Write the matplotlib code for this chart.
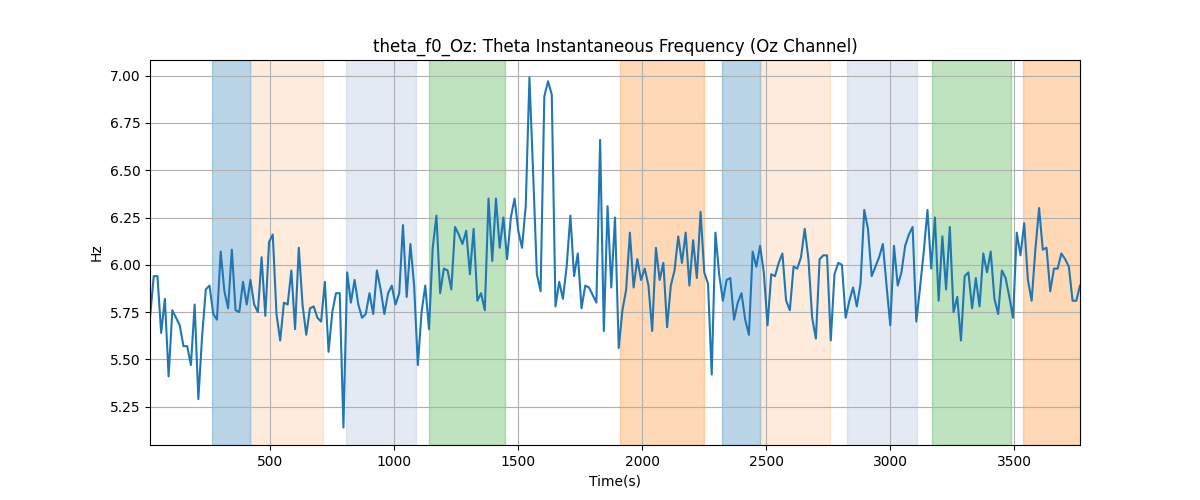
import numpy as np
import matplotlib
matplotlib.use("Agg")
import matplotlib.pyplot as plt

# sample times (15 s step)
times = np.arange(15, 3766, 15)

freq = [
    5.72, 5.94, 5.94, 5.64, 5.82, 5.41, 5.76, 5.72, 5.68, 5.57,
    5.57, 5.47, 5.79, 5.29, 5.62, 5.87, 5.89, 5.74, 5.71, 6.07,
    5.86, 5.77, 6.08, 5.76, 5.75, 5.91, 5.79, 5.92, 5.79, 5.75,
    6.04, 5.73, 6.12, 6.16, 5.74, 5.60, 5.80, 5.79, 5.97, 5.66,
    6.09, 5.79, 5.63, 5.77, 5.78, 5.72, 5.70, 5.91, 5.54, 5.75,
    5.85, 5.85, 5.14, 5.96, 5.80, 5.92, 5.79, 5.72, 5.74, 5.85,
    5.74, 5.97, 5.87, 5.74, 5.85, 5.89, 5.79, 5.85, 6.21, 5.83,
    6.11, 5.89, 5.47, 5.75, 5.89, 5.66, 6.09, 6.26, 5.85, 5.98,
    5.97, 5.87, 6.20, 6.16, 6.11, 6.18, 5.95, 6.19, 5.81, 5.85,
    5.76, 6.35, 6.02, 6.35, 6.09, 6.25, 6.03, 6.25, 6.35, 6.18,
    6.09, 6.31, 6.99, 6.48, 5.95, 5.86, 6.89, 6.97, 6.90, 5.78,
    5.91, 5.82, 5.99, 6.26, 5.94, 6.06, 5.77, 5.89, 5.88, 5.84,
    5.80, 6.66, 5.65, 6.31, 5.88, 6.25, 5.56, 5.76, 5.87, 6.17,
    5.88, 6.03, 5.92, 5.98, 5.89, 5.65, 6.09, 5.92, 6.01, 5.67,
    5.89, 5.97, 6.15, 6.01, 6.17, 5.89, 6.13, 5.93, 6.28, 5.96,
    5.90, 5.42, 6.17, 5.95, 5.81, 5.92, 5.93, 5.71, 5.80, 5.85,
    5.71, 5.63, 6.07, 5.99, 6.10, 5.96, 5.68, 5.95, 5.94, 6.01,
    6.06, 5.81, 5.76, 5.99, 5.98, 6.04, 6.19, 6.03, 5.72, 5.61,
    6.03, 6.05, 6.05, 5.60, 5.95, 6.01, 6.00, 5.72, 5.81, 5.88,
    5.78, 5.90, 6.29, 6.19, 5.94, 5.99, 6.04, 6.11, 5.89, 5.68,
    6.10, 5.89, 5.96, 6.10, 6.16, 6.20, 5.70, 5.88, 6.07, 6.29,
    5.98, 6.25, 5.81, 6.15, 5.87, 6.20, 5.75, 5.83, 5.60, 5.94,
    5.96, 5.77, 5.93, 5.78, 6.06, 5.96, 6.07, 5.82, 5.74, 5.97,
    5.93, 5.83, 5.72, 6.17, 6.05, 6.22, 5.92, 5.81, 6.08, 6.30,
    6.08, 6.09, 5.86, 5.98, 5.98, 6.06, 6.03, 5.99, 5.81, 5.81,
    5.89,
]

span_starts = [265, 422, 806, 1141, 1910, 2323, 2479, 2825, 3169, 3536]
span_ends = [419, 711, 1086, 1445, 2248, 2476, 2756, 3106, 3485, 3800]
span_colors = ["tab:blue", "tab:orange", "lightsteelblue", "tab:green", "tab:orange",
               "tab:blue", "tab:orange", "lightsteelblue", "tab:green", "tab:orange"]
span_alphas = [0.3, 0.15, 0.35, 0.3, 0.3, 0.3, 0.15, 0.35, 0.3, 0.3]

fig, ax = plt.subplots(figsize=(12, 5))

for s, e, c, a in zip(span_starts, span_ends, span_colors, span_alphas):
    ax.axvspan(s, e, color=c, alpha=a)

ax.plot(times, freq, color="tab:blue")
ax.set_xlim(times[0], times[-1])
ax.set_title("theta_f0_Oz: Theta Instantaneous Frequency (Oz Channel)")
ax.set_xlabel("Time(s)")
ax.set_ylabel("Hz")
ax.grid(True)

plt.savefig("out.png")
